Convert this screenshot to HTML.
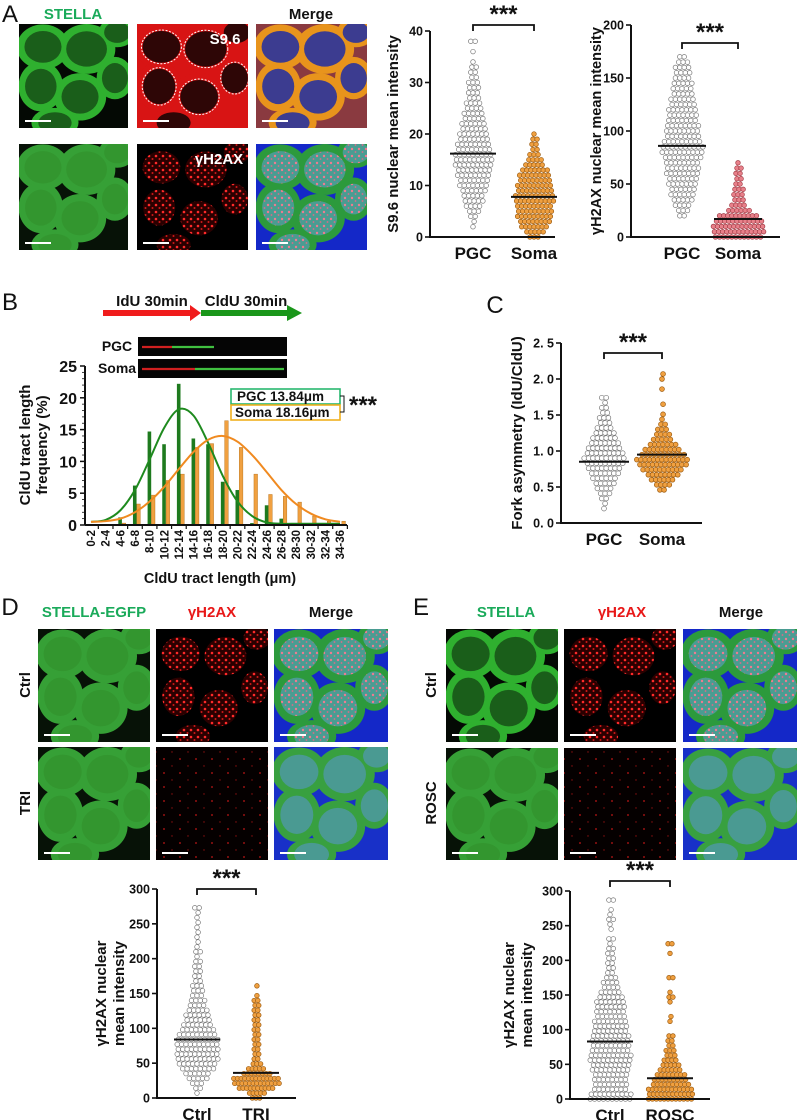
<!DOCTYPE html>
<html><head><meta charset="utf-8"><style>
html,body{margin:0;padding:0;background:#fff;}
svg{display:block;font-family:"Liberation Sans",Arial,sans-serif;}
</style></head><body>
<svg id="fig" width="797" height="1120" viewBox="0 0 797 1120" xmlns="http://www.w3.org/2000/svg">
<defs>
<pattern id="redDots" width="7" height="7" patternUnits="userSpaceOnUse"><rect width="7" height="7" fill="#2a0000"/><circle cx="2" cy="2" r="1.3" fill="#ff2a2a"/><circle cx="5.5" cy="5" r="1" fill="#d01818"/></pattern>
<pattern id="pinkDots" width="7" height="7" patternUnits="userSpaceOnUse"><rect width="7" height="7" fill="#4a9c92"/><circle cx="2" cy="2" r="1.2" fill="#f07a90"/><circle cx="5.5" cy="5" r="0.9" fill="#e06a88"/></pattern>
<pattern id="sparseDots" width="16" height="14" patternUnits="userSpaceOnUse"><rect width="16" height="14" fill="#050000"/><circle cx="4" cy="3" r="0.9" fill="#c01515"/><circle cx="12" cy="10" r="0.7" fill="#901010"/></pattern>
</defs>
</svg>
<script>
const NS="http://www.w3.org/2000/svg";
const svg=document.getElementById('fig');
function el(tag,attrs,parent){const e=document.createElementNS(NS,tag);for(const k in attrs)e.setAttribute(k,attrs[k]);(parent||svg).appendChild(e);return e;}
function txt(x,y,s,size,opts,parent){opts=opts||{};const t=el('text',{x:x,y:y,'font-size':size,'font-weight':opts.w||'bold','text-anchor':opts.a||'middle',fill:opts.fill||'#111'},parent);if(opts.rot!==undefined)t.setAttribute('transform','rotate('+opts.rot+' '+x+' '+y+')');t.textContent=s;return t;}

/* ===== DATA ===== */
const s96Categories=["PGC","Soma"];
const s96PGCStart=2, s96PGCStep=1;
const s96PGCCounts=[1,1,2,3,4,5,5,6,7,7,8,8,9,9,9,8,8,7,7,6,6,5,5,4,4,3,3,3,3,2,2,2,1,0,1,0,2];
const s96SomaStart=0, s96SomaStep=1;
const s96SomaCounts=[3,5,7,8,9,9,9,10,10,9,9,8,8,7,5,4,3,2,2,2,1];
const s96Means=[16.2,7.8];
const s96Ticks=[0,10,20,30,40];
const ghCategories=["PGC","Soma"];
const ghPGCStart=20, ghPGCStep=5;
const ghPGCCounts=[2,3,4,5,6,6,7,7,8,8,8,9,10,10,9,8,8,8,7,7,7,6,6,5,5,5,4,4,4,3,2];
const ghSomaStart=0, ghSomaStep=5;
const ghSomaCounts=[12,13,13,12,10,6,4,3,3,3,2,2,2,2,1];
const ghMeans=[86,17];
const ghTicks=[0,50,100,150,200];
const bCategories=["0-2","2-4","4-6","6-8","8-10","10-12","12-14","14-16","16-18","18-20","20-22","22-24","24-26","26-28","28-30","30-32","32-34","34-36"];
const bPGC=[0,0,1.2,6.2,14.7,12.7,22.2,13.6,12.7,6.8,5.5,0.3,3.1,1.0,0,0,0,0];
const bSoma=[0,0,0.3,3.3,4.7,7.0,8.0,12.2,12.8,16.4,12.2,8.0,4.8,4.5,3.6,1.4,0.6,0.6];
const bPGCFit=[0.5,0.8,2.3,5.5,10.3,15.3,18.2,17.2,12.9,7.7,3.7,1.4,0.4,0.2,0.2,0.2,0.2,0.2];
const bSomaFit=[0.5,0.6,1.0,2.0,3.7,6.0,8.8,11.5,13.4,14.0,13.1,11.0,8.3,5.5,3.3,1.8,0.9,0.5];
const bTicks=[0,5,10,15,20,25];
const cCategories=["PGC","Soma"];
const cPGCStart=0.2, cPGCStep=0.07;
const cPGCCounts=[1,1,2,3,4,5,6,7,8,9,10,9,8,7,6,5,4,3,3,2,2,1,2];
const cSomaStart=0.46, cSomaStep=0.07;
const cSomaCounts=[2,4,6,8,10,12,13,11,9,7,5,4,3,2,1,1,0,1,0,0,1,0,1,1];
const cMeans=[0.85,0.95];
const cTicks=[0,0.5,1.0,1.5,2.0,2.5];
const dCategories=["Ctrl","TRI"];
const dCtrlStart=7, dCtrlStep=7;
const dCtrlCounts=[1,2,3,5,6,8,9,10,10,10,10,10,9,8,7,6,6,5,4,4,3,3,3,2,2,2,2,2,1,2,1,1,1,1,1,1,1,1,2];
const dTRIStart=0, dTRIStep=7;
const dTRICounts=[3,5,10,13,13,8,5,3,2,2,2,2,2,2,2,2,2,2,2,2,2,1,0,1];
const dMeans=[84,36];
const dTicks=[0,50,100,150,200,250,300];
const eCategories=["Ctrl","ROSC"];
const eCtrlStart=0, eCtrlStep=7;
const eCtrlCounts=[10,10,8,8,8,8,9,9,10,10,9,9,9,9,8,8,8,7,7,7,7,6,5,4,4,3,2,2,2,2,2,2,1,2,0,1,1,2,1,1,0,2];
const eROSCStart=0, eROSCStep=7;
const eROSCCounts=[12,12,12,10,9,8,6,5,4,3,3,2,2,2,0,0,1,1,0,0,1,2,1,0,0,2,0,0,0,0,1,0,2];
const eMeans=[83,30];
const eTicks=[0,50,100,150,200,250,300];

/* ===== helpers ===== */
function lin(d0,d1,r0,r1){return v=>r0+(v-d0)*(r1-r0)/(d1-d0);}
function swarm(g,ys,cx,start,step,counts,fill,stroke,sp,r,name){
  counts.forEach((n,i)=>{const v=start+i*step;const y=ys(v);
    for(let k=0;k<n;k++){const off=(k-(n-1)/2)*sp+((i%2)?sp*0.25:0);
      const c=el('circle',{cx:cx+off,cy:y,r:r,fill:fill,stroke:stroke,'stroke-width':0.7},g);
      
      }});
}
function axisY(g,x,ys,ticks,fmt,x1){
  el('line',{x1:x,y1:ys(ticks[0]),x2:x,y2:ys(ticks[ticks.length-1]),stroke:'#111','stroke-width':2},g);
  el('line',{x1:x-1,y1:ys(ticks[0]),x2:x1,y2:ys(ticks[0]),stroke:'#111','stroke-width':2},g);
  ticks.forEach(t=>{el('line',{x1:x-5,y1:ys(t),x2:x,y2:ys(t),stroke:'#111','stroke-width':1.6},g);
    const tl=txt(x-7,ys(t)+4.5,fmt(t),12.5,{a:'end'},g);
    
    });
}
function bracket(g,x1,x2,y,name){
  const p=el('path',{d:`M${x1},${y+6}V${y}H${x2}V${y+6}`,fill:'none',stroke:'#111','stroke-width':1.8},g);
  
  
  const s=txt((x1+x2)/2,y-3,'***',24,{},g);
  
  
}
function meanLine(g,cx,y,w){el('line',{x1:cx-w,y1:y,x2:cx+w,y2:y,stroke:'#111','stroke-width':2},g);}
function swarmChart(o){
  const g=el('g',{});
  
  
  const ys=lin(o.ticks[0],o.ticks[o.ticks.length-1],o.y0,o.y1);
  swarm(g,ys,o.cx[0],o.s1[0],o.s1[1],o.s1[2],'#fff','#777',o.sp,o.r,o.name+'-'+o.cats[0].toLowerCase());
  swarm(g,ys,o.cx[1],o.s2[0],o.s2[1],o.s2[2],o.fill2,o.stroke2,o.sp2||o.sp,o.r,o.name+'-'+o.cats[1].toLowerCase());
  meanLine(g,o.cx[0],ys(o.means[0]),o.mw);meanLine(g,o.cx[1],ys(o.means[1]),o.mw);
  axisY(g,o.ax,ys,o.ticks,o.fmt,o.ax2);
  o.cats.forEach((c,i)=>{const t=txt(o.cx[i],o.y0+22,c,17,{},g);
    
    });
  bracket(g,o.cx[0],o.cx[1],o.by,o.name);
  o.titles.forEach((tt,i)=>{const t=txt(o.tx[i],(o.y0+o.y1)/2,tt,o.ts||15,{rot:-90},g);
    
    });
}

/* ===== microscopy ===== */
const layout=[[.22,.22,.2,.18],[.62,.24,.22,.2],[.2,.6,.17,.2],[.56,.7,.2,.19],[.88,.52,.14,.17],[.9,.08,.14,.12],[.33,.95,.18,.12]];
function img(x,y,w,h,type,name){
  const g=el('g',{});
  
  
  const cp=el('clipPath',{id:'cp'+name},g);el('rect',{x:x,y:y,width:w,height:h},cp);
  const gg=el('g',{'clip-path':'url(#cp'+name+')'},g);
  const T={green:['#040904','#2fb02f','#1a5e1a'],greenFlat:['#071207','#36a036','#33962f'],red:['#d81414','#d81414','#2e0606'],
    merge1:['#8a3a40','#e8941c','#3c3c90'],dots:['#000','#000','url(#redDots)'],merge2:['#1428c8','#2c9a3c','url(#pinkDots)'],
    sparse:['url(#sparseDots)',null,null],merge3:['#1830c8','#38a040','#4a9a92']}[type];
  el('rect',{x:x,y:y,width:w,height:h,fill:T[0]},gg);
  if(T[1]){layout.forEach(c=>{el('ellipse',{cx:x+c[0]*w,cy:y+c[1]*h,rx:c[2]*w*1.2,ry:c[3]*h*1.2,fill:T[1]},gg);});
    layout.forEach(c=>{el('ellipse',{cx:x+c[0]*w,cy:y+c[1]*h,rx:c[2]*w*0.85,ry:c[3]*h*0.85,fill:T[2]},gg);});}
  if(type==='red'){layout.slice(0,5).forEach(c=>{el('ellipse',{cx:x+c[0]*w,cy:y+c[1]*h,rx:c[2]*w*0.9,ry:c[3]*h*0.9,fill:'none',stroke:'#fff','stroke-width':1,'stroke-dasharray':'2 1.5'},gg);});}
  el('line',{x1:x+6,y1:y+h-7,x2:x+32,y2:y+h-7,stroke:'#fff','stroke-width':2},gg);
  return g;
}
function lbl(x,y,s,col,size,name,rot){const t=txt(x,y,s,size||15,{fill:col,rot:rot});return t;}

/* Panel A */
lbl(10,22,'A','#111',24,'panel-a-letter').setAttribute('font-weight','normal');
lbl(73,19,'STELLA','#1aaa5a',15,'stella-label');
lbl(311,19,'Merge','#111',15,'merge-label');
img(19,24,109,104,'green','a-stella-top');img(137,24,111,104,'red','a-s96');img(256,24,111,104,'merge1','a-merge-top');
img(19,144,109,106,'greenFlat','a-stella-bottom');img(137,144,111,106,'dots','a-gh2ax');img(256,144,111,106,'merge2','a-merge-bottom');
lbl(225,44,'S9.6','#fff',15,'s96-label');lbl(219,164,'γH2AX','#fff',15,'gh2ax-label');

swarmChart({name:'s96-chart',cats:s96Categories,ticks:s96Ticks,y0:237,y1:31,cx:[473,534],s1:[s96PGCStart,s96PGCStep,s96PGCCounts],s2:[s96SomaStart,s96SomaStep,s96SomaCounts],
 fill2:'#f0a040',stroke2:'#9a5a10',sp:4.4,sp2:4.1,r:2.3,means:s96Means,mw:23,ax:430,ax2:555,fmt:v=>v,by:25,titles:['S9.6 nuclear mean intensity'],tx:[398]});
swarmChart({name:'gh2ax-chart',cats:ghCategories,ticks:ghTicks,y0:237,y1:25,cx:[682,738],s1:[ghPGCStart,ghPGCStep,ghPGCCounts],s2:[ghSomaStart,ghSomaStep,ghSomaCounts],
 fill2:'#e8808a',stroke2:'#a03a44',sp:4.4,sp2:4.1,r:2.3,means:ghMeans,mw:24,ax:631,ax2:780,fmt:v=>v,by:43,titles:['γH2AX nuclear mean intensity'],tx:[601],ts:14.5});

/* Panel B */
lbl(10,310,'B','#111',24,'panel-b-letter').setAttribute('font-weight','normal');
lbl(152,306,'IdU 30min','#111',15,'idu-label');lbl(246,306,'CldU 30min','#111',15,'cldu-label');
{const a=el('path',{d:'M103,310H190V305L201,313L190,321V316H103Z',fill:'#f01c1c'});
 const b=el('path',{d:'M201,310H287V305L302,313L287,321V316H201Z',fill:'#1a961a'});}
{[[337,'pgc'],[359,'soma']].forEach(([y,n],j)=>{const g=el('g',{});
 el('rect',{x:138,y:y,width:149,height:19,fill:'#050505'},g);
 el('line',{x1:142,y1:y+10,x2:j?195:172,y2:y+10,stroke:'#d02020','stroke-width':2.2},g);
 el('line',{x1:j?195:172,y1:y+10,x2:j?284:214,y2:y+10,stroke:'#40c040','stroke-width':2.2},g);});}
lbl(117,351,'PGC','#111',14,'fiber-pgc-label');lbl(117,373,'Soma','#111',14,'fiber-soma-label');
{
 const g=el('g',{});
 const ys=lin(0,25,525,366);const x0=91,dx=14.65;const xc=i=>x0+i*dx;
 bCategories.forEach((c,i)=>{
  const gb=el('rect',{x:xc(i)-2,y:ys(bPGC[i]),width:3.6,height:525-ys(bPGC[i]),fill:'#1e7a1e'},g);
  
  const ob=el('rect',{x:xc(i)+1.8,y:ys(bSoma[i]),width:3.6,height:525-ys(bSoma[i]),fill:'#f0a040',stroke:'#b06a10','stroke-width':0.4},g);
  
  const tl=txt(xc(i)+4,530,c,11.5,{a:'end',rot:-90},g);
  el('line',{x1:xc(i)+dx/2,y1:525,x2:xc(i)+dx/2,y2:529,stroke:'#111','stroke-width':1.2},g);
 });
 function curve(vals,col,name){let pts=vals.map((v,i)=>[xc(i),ys(v)]);let d='M'+pts[0];
  for(let i=0;i<pts.length-1;i++){const p0=pts[Math.max(0,i-1)],p1=pts[i],p2=pts[i+1],p3=pts[Math.min(pts.length-1,i+2)];
   d+=`C${p1[0]+(p2[0]-p0[0])/6},${p1[1]+(p2[1]-p0[1])/6} ${p2[0]-(p3[0]-p1[0])/6},${p2[1]-(p3[1]-p1[1])/6} ${p2[0]},${p2[1]}`;}
  const p=el('path',{d:d,fill:'none',stroke:col,'stroke-width':2},g);}
 curve(bPGCFit,'#1e8a1e','fit-curve-pgc');curve(bSomaFit,'#f08a20','fit-curve-soma');
 el('line',{x1:85,y1:525,x2:347,y2:525,stroke:'#111','stroke-width':2},g);
 el('line',{x1:85,y1:525,x2:85,y2:366,stroke:'#111','stroke-width':2},g);
 for(let v=0;v<=25;v++){el('line',{x1:v%5?82:80,y1:ys(v),x2:85,y2:ys(v),stroke:'#111','stroke-width':v%5?0.8:1.5},g);}
 bTicks.forEach(t=>{const tl=txt(77,ys(t)+6,t,16,{a:'end'},g);});
 const t1=txt(30,445,'CldU tract length',15,{rot:-90},g);
 const t2=txt(47,445,'frequency (%)',15,{rot:-90},g);
 const xt=txt(220,583,'CldU tract length (μm)',14.5,{},g);
 const l1=el('rect',{x:231,y:389,width:109,height:15,fill:'#fff',stroke:'#2ab870','stroke-width':1.6},g);
 const l2=el('rect',{x:231,y:405,width:109,height:15,fill:'#fff',stroke:'#f0b020','stroke-width':1.6},g);
 txt(237,401,'PGC   13.84μm',13.5,{a:'start'},g);txt(235,417,'Soma 18.16μm',13.5,{a:'start'},g);
 el('path',{d:'M340,396H344V412H340',fill:'none',stroke:'#111','stroke-width':1},g);
 const st=txt(363,413,'***',24,{},g);
}

/* Panel C */
lbl(495,313,'C','#111',24,'panel-c-letter').setAttribute('font-weight','normal');
swarmChart({name:'fork-asymmetry-chart',cats:cCategories,ticks:cTicks,y0:523,y1:343,cx:[604,662],s1:[cPGCStart,cPGCStep,cPGCCounts],s2:[cSomaStart,cSomaStep,cSomaCounts],
 fill2:'#f0a040',stroke2:'#9a5a10',sp:4.4,sp2:4.2,r:2.4,means:cMeans,mw:25,ax:561,ax2:702,fmt:v=>v.toFixed(1).replace('.','. '),by:353,titles:['Fork asymmetry (IdU/CldU)'],tx:[522]});

/* Panel D */
lbl(10,615,'D','#111',24,'panel-d-letter').setAttribute('font-weight','normal');
lbl(94,617,'STELLA-EGFP','#1aaa5a',15,'stella-egfp-label');lbl(212,617,'γH2AX','#e81818',15,'d-gh2ax-label');lbl(331,617,'Merge','#111',15,'d-merge-label');
lbl(30,685,'Ctrl','#111',15,'d-ctrl-label',-90);lbl(30,803,'TRI','#111',15,'d-tri-label',-90);
img(38,629,112,113,'greenFlat','d-stella-ctrl');img(156,629,112,113,'dots','d-gh2ax-ctrl');img(274,629,114,113,'merge2','d-merge-ctrl');
img(38,747,112,113,'greenFlat','d-stella-tri');img(156,747,112,113,'sparse','d-gh2ax-tri');img(274,747,114,113,'merge3','d-merge-tri');
swarmChart({name:'d-gh2ax-chart',cats:dCategories,ticks:dTicks,y0:1098,y1:889,cx:[197,256],s1:[dCtrlStart,dCtrlStep,dCtrlCounts],s2:[dTRIStart,dTRIStep,dTRICounts],
 fill2:'#f0a040',stroke2:'#9a5a10',sp:4.4,sp2:3.7,r:2.3,means:dMeans,mw:23,ax:157,ax2:296,fmt:v=>v,by:889,titles:['γH2AX nuclear','mean intensity'],tx:[106,124]});

/* Panel E */
lbl(421,615,'E','#111',24,'panel-e-letter').setAttribute('font-weight','normal');
lbl(506,617,'STELLA','#1aaa5a',15,'e-stella-label');lbl(622,617,'γH2AX','#e81818',15,'e-gh2ax-label');lbl(741,617,'Merge','#111',15,'e-merge-label');
lbl(436,685,'Ctrl','#111',15,'e-ctrl-label',-90);lbl(436,803,'ROSC','#111',15,'e-rosc-label',-90);
img(446,629,112,113,'green','e-stella-ctrl');img(564,629,112,113,'dots','e-gh2ax-ctrl');img(683,629,114,113,'merge2','e-merge-ctrl');
img(446,748,112,112,'greenFlat','e-stella-rosc');img(564,748,112,112,'sparse','e-gh2ax-rosc');img(683,748,114,112,'merge3','e-merge-rosc');
swarmChart({name:'e-gh2ax-chart',cats:eCategories,ticks:eTicks,y0:1099,y1:891,cx:[610,670],s1:[eCtrlStart,eCtrlStep,eCtrlCounts],s2:[eROSCStart,eROSCStep,eROSCCounts],
 fill2:'#f0a040',stroke2:'#9a5a10',sp:4.4,sp2:3.9,r:2.3,means:eMeans,mw:23,ax:570,ax2:710,fmt:v=>v,by:881,titles:['γH2AX nuclear','mean intensity'],tx:[514,532]});
</script>
</body></html>
